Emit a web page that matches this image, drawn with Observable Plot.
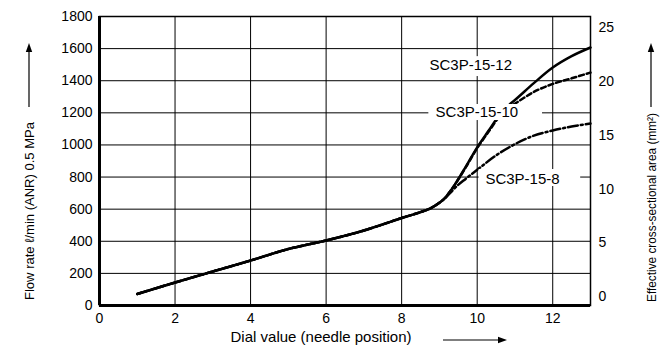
<!DOCTYPE html>
<html><head><meta charset="utf-8">
<script src="https://cdn.jsdelivr.net/npm/d3@7"></script>
<script src="https://cdn.jsdelivr.net/npm/@observablehq/plot@0.6"></script>
<style>
body{margin:0;background:#fff;}
#chart svg{font-family:"Liberation Sans",Arial,sans-serif;}
</style></head><body><div id="chart"></div>
<script>
// Data
const dial12 = [1, 2, 3, 4, 5, 6, 7, 7.5, 8, 8.5, 8.75, 9.0, 9.15, 9.3, 9.4, 9.7, 10.0, 10.3, 10.6, 10.8, 11.0, 11.5, 12.0, 12.5, 13.0];
const flow12 = [72, 143, 212, 280, 352, 405, 467, 505, 545, 582, 604, 640, 670, 716, 750, 865, 985, 1088, 1190, 1240, 1280, 1385, 1482, 1553, 1607];
const dial10 = [1, 2, 3, 4, 5, 6, 7, 7.5, 8, 8.5, 8.75, 9.0, 9.15, 9.3, 9.4, 9.7, 10.0, 10.3, 10.6, 10.8, 11.06, 11.5, 12.0, 12.5, 13.0];
const flow10 = [72, 143, 212, 280, 352, 405, 467, 505, 545, 582, 604, 640, 670, 716, 750, 862, 980, 1082, 1180, 1225, 1266, 1330, 1380, 1415, 1451];
const dial8 = [1, 2, 3, 4, 5, 6, 7, 7.5, 8, 8.5, 8.75, 9.0, 9.15, 9.3, 9.4, 9.7, 10.0, 10.5, 11.0, 11.5, 12.0, 12.5, 13.0];
const flow8 = [72, 143, 212, 280, 352, 405, 467, 505, 545, 582, 604, 640, 668, 705, 730, 790, 845, 935, 1005, 1058, 1090, 1115, 1133];

const seriesNames = ["SC3P-15-12", "SC3P-15-10", "SC3P-15-8"];
const xTicks = [0, 2, 4, 6, 8, 10, 12];
const yTicks = [0, 200, 400, 600, 800, 1000, 1200, 1400, 1600, 1800];
const areaTicks = [0, 5, 10, 15, 20, 25];
const areaToFlow = a => 56 + 66.9 * a;
const flowToArea = f => (f - 56) / 66.9;

// Series labels (data coordinates) and the white boxes behind them
const labelX = [9.83, 9.99, 11.2];
const labelY = [1494, 1202, 785];
const boxX1 = [8.61, 8.72, 10.05];
const boxX2 = [11.42, 11.73, 12.74];
const boxY1 = [1426, 1152, 741];
const boxY2 = [1550, 1252, 847];

const toRows = (xs, ys) => xs.map((x, i) => ({dial: x, flow: ys[i]}));
const rows12 = toRows(dial12, flow12);
const rows10 = toRows(dial10, flow10);
const rows8 = toRows(dial8, flow8);
const labels = seriesNames.map((name, i) => ({name, x: labelX[i], y: labelY[i], x1: boxX1[i], x2: boxX2[i], y1: boxY1[i], y2: boxY2[i]}));

const font = "'Liberation Sans', Arial, sans-serif";
const yTitle = "Flow rate ℓ/min (ANR) 0.5 MPa";
const y2Title = "Effective cross-sectional area (mm²)";
const xTitle = "Dial value (needle position)";

const chart = Plot.plot({
  width: 665, height: 349,
  marginTop: 16, marginBottom: 44, marginLeft: 99, marginRight: 75,
  x: {domain: [0, 13]},
  y: {domain: [0, 1800]},
  style: {fontFamily: font, fontSize: "14px", color: "#000", background: "#fff"},
  marks: [
    Plot.gridX(xTicks.filter(d => d > 0), {stroke: "#000", strokeOpacity: 1, strokeWidth: 1}),
    Plot.gridY(yTicks.filter(d => d > 0 && d < 1800), {stroke: "#000", strokeOpacity: 1, strokeWidth: 1}),
    Plot.line(rows12, {x: "dial", y: "flow", curve: "monotone-x", stroke: "#000", strokeWidth: 2.5}),
    Plot.line(rows10, {x: "dial", y: "flow", curve: "monotone-x", stroke: "#000", strokeWidth: 2.5, strokeDasharray: "5,3"}),
    Plot.line(rows8, {x: "dial", y: "flow", curve: "monotone-x", stroke: "#000", strokeWidth: 2.5, strokeDasharray: "10,3,2,3"}),
    Plot.rect(labels, {x1: "x1", x2: "x2", y1: "y1", y2: "y2", fill: "#fff"}),
    Plot.text(labels, {x: "x", y: "y", text: "name", fontSize: 15, fill: "#000"}),
    Plot.axisX(xTicks, {tickSize: 0, tickPadding: 8, label: null, fontSize: 14, tickFormat: d => String(d)}),
    Plot.axisY(yTicks, {tickSize: 0, tickPadding: 7, label: null, fontSize: 14, tickFormat: d => String(d)}),
    Plot.axisY(areaTicks.map(areaToFlow), {anchor: "right", tickSize: 0, tickPadding: 8, label: null, fontSize: 14,
      tickFormat: d => String(Math.round(flowToArea(d)))}),
    Plot.frame({stroke: "#000", strokeWidth: 1.5}),
    Plot.ruleX([0], {stroke: "#000", strokeWidth: 3}),
    Plot.ruleY([0], {stroke: "#000", strokeWidth: 3}),
    Plot.text([xTitle], {text: d => d, frameAnchor: "bottom", dx: -24, dy: 36, fontSize: 15, fill: "#000"}),
    Plot.text([yTitle], {text: d => d, frameAnchor: "left", dx: -70, dy: 139, rotate: -90, textAnchor: "start", fontSize: 13, fill: "#000"}),
    Plot.text([y2Title], {text: d => d, frameAnchor: "right", dx: 61, dy: 141, rotate: -90, textAnchor: "start", fontSize: 13, fill: "#000"})
  ]
});

// Condense the rotated axis titles to the reference's narrow lettering
const svgSel = d3.select(chart);
svgSel.selectAll("text").filter(function () { return this.textContent === yTitle; })
  .attr("textLength", 178).attr("lengthAdjust", "spacingAndGlyphs");
svgSel.selectAll("text").filter(function () { return this.textContent === y2Title; })
  .attr("textLength", 189).attr("lengthAdjust", "spacingAndGlyphs");

// Decorative axis arrows (thin shaft, filled head), placed relative to the frame
function arrow(x1, y1, x2, y2) {
  const g = svgSel.append("g");
  const ang = Math.atan2(y2 - y1, x2 - x1);
  const L = 9, w = 3.2;
  const bx = x2 - L * Math.cos(ang), by = y2 - L * Math.sin(ang);
  g.append("line").attr("x1", x1).attr("y1", y1).attr("x2", bx).attr("y2", by).attr("stroke", "#000").attr("stroke-width", 1.2);
  g.append("path").attr("d", `M${x2},${y2}L${bx - w * Math.sin(ang)},${by + w * Math.cos(ang)}L${bx + w * Math.sin(ang)},${by - w * Math.cos(ang)}Z`).attr("fill", "#000");
}
const fx = chart.scale("x"), fy = chart.scale("y");
const frameL = fx.apply(0), frameR = fx.apply(13), frameT = fy.apply(1800), frameB = fy.apply(0);
arrow(frameL + 344, frameB + 35, frameL + 408, frameB + 35);
arrow(frameL - 70, frameT + 91, frameL - 70, frameT + 27);
arrow(frameR + 61, frameT + 91, frameR + 61, frameT + 27);

document.getElementById("chart").appendChild(chart);
</script>
</body></html>
